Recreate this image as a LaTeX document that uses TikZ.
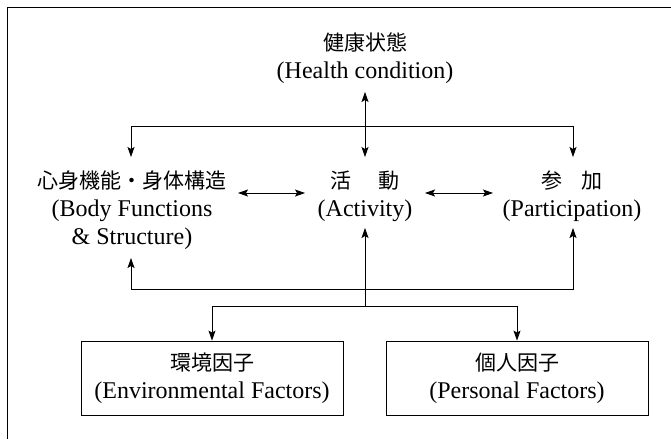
\documentclass[tikz,border=0pt]{standalone}
\usepackage{fontspec}
\setmainfont{Liberation Serif}
\newfontfamily\jp{Noto Sans CJK JP}
\newcommand\jpt[1]{{\jp\fontsize{21}{28}\selectfont #1}}
\usetikzlibrary{arrows.meta}
\begin{document}
\begin{tikzpicture}[x=1pt,y=-1pt,
  lbl/.style={align=center, font=\fontsize{24}{28}\selectfont, inner sep=0pt},
  thin line/.style={line width=0.9pt},
  arr/.style={line width=0.8pt, -{Stealth[length=10pt,width=7pt,inset=2pt]}},
  darr/.style={line width=0.8pt, {Stealth[length=10pt,width=7pt,inset=2pt]}-{Stealth[length=10pt,width=7pt,inset=2pt]}},
  fbox/.style={draw, line width=0.8pt, minimum width=262pt, minimum height=74pt, inner sep=0pt, align=center, font=\fontsize{24}{28}\selectfont}
]
\useasboundingbox (0,0) rectangle (671,439);
% frame
\draw[thin line] (671,7) -- (7,7) -- (7,439);
% nodes
\node[lbl] (health) at (365,58) {\jpt{健康状態}\\(Health condition)};
\node[lbl] (body) at (132,210) {\jpt{心身機能・身体構造}\\(Body Functions\\\& Structure)};
\node[lbl] (act) at (365,196) {\jpt{活\hspace{28pt}動}\\(Activity)};
\node[lbl] (part) at (572,196) {\jpt{参\hspace{19pt}加}\\(Participation)};
\node[fbox] (env) at (212,378) {\jpt{環境因子}\\(Environmental Factors)};
\node[fbox] (pers) at (517,378) {\jpt{個人因子}\\(Personal Factors)};
% junction coordinates
\coordinate (hS) at (365,92);
\coordinate (top) at (365,126);
\coordinate (bodyN) at (131,157);
\coordinate (actN) at (365,157);
\coordinate (partN) at (573,157);
\coordinate (bodyE) at (238,193);
\coordinate (actW) at (305,193);
\coordinate (actE) at (425,193);
\coordinate (partW) at (493,193);
\coordinate (bodyS) at (131,258);
\coordinate (actS) at (365,228);
\coordinate (partS) at (573,228);
\coordinate (low) at (365,289);
\coordinate (split) at (365,306);
% connectors
\draw[darr] (hS) -- (actN);
\draw[arr] (top) -| (bodyN);
\draw[arr] (top) -| (partN);
\draw[darr] (bodyE) -- (actW);
\draw[darr] (actE) -- (partW);
\draw[arr] (split) -- (actS);
\draw[arr] (low) -| (bodyS);
\draw[arr] (low) -| (partS);
\draw[arr] (split) -| (env.north);
\draw[arr] (split) -| (pers.north);
\end{tikzpicture}
\end{document}
